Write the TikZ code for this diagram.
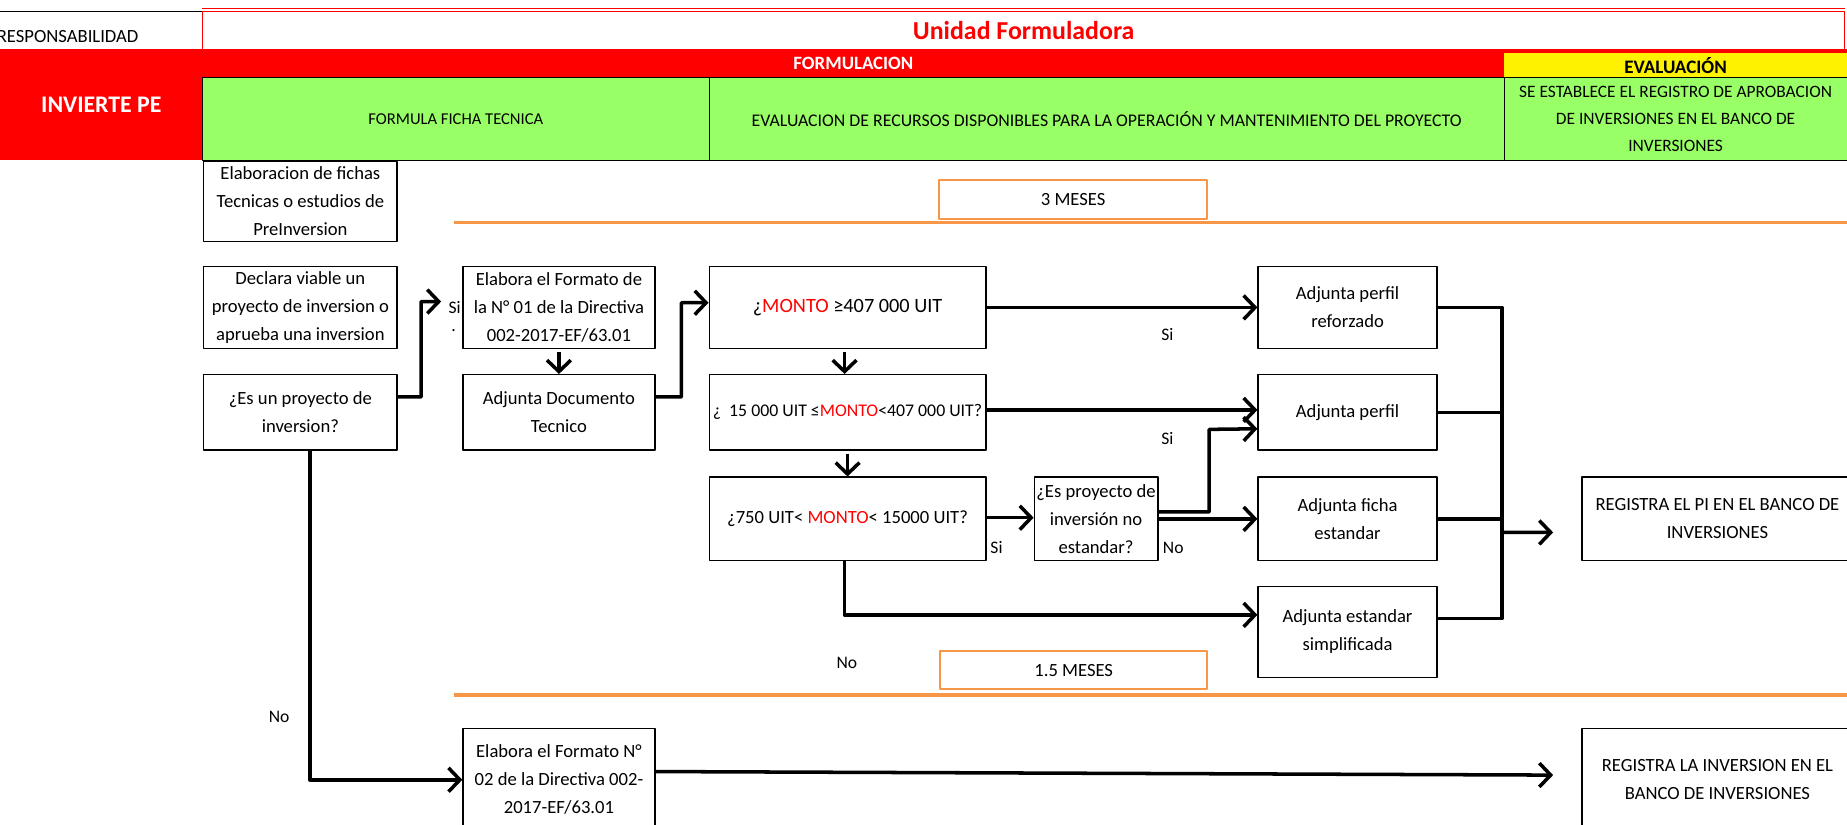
\documentclass[tikz,border=0pt]{standalone}
\usepackage{fontspec}
\setmainfont{Carlito}
\usetikzlibrary{arrows.meta}
\definecolor{verde}{HTML}{99FF66}
\definecolor{naranja}{HTML}{F79646}
\begin{document}
\begin{tikzpicture}[x=0.02cm, y=-0.02cm, line join=round,
  caja/.style={draw, line width=0.6pt, align=center, inner sep=1pt, font=\fontsize{9}{13.5}\selectfont},
  celda/.style={draw, line width=0.4pt, align=center, inner sep=0pt, font=\fontsize{8}{13}\selectfont},
  tiempo/.style={draw=naranja, line width=1pt, align=center, font=\fontsize{9}{10}\selectfont},
  flecha/.style={line width=1.7pt, -{Straight Barb[length=5.5pt,width=11.5pt]}},
  linea/.style={line width=1.7pt},
  etiq/.style={font=\fontsize{8.5}{10}\selectfont, inner sep=0pt}]
\useasboundingbox (0,0) rectangle (1568,700);
% cabecera
\draw[line width=0.4pt] (0,10) -- (172,10);
\node[anchor=west, inner sep=0pt, font=\fontsize{9}{10}\selectfont] (resp) at (-3,31) {RESPONSABILIDAD};
\node[draw=red, line width=0.4pt, minimum width=27.88cm, minimum height=0.64cm, inner sep=0pt, text=red, font=\fontsize{12.5}{14}\selectfont\bfseries] (unidad) at (869,26) {Unidad Formuladora};
\draw[red, line width=0.4pt] ([yshift=0.05cm]unidad.north west) -- ([yshift=0.05cm]unidad.north east);
\node[fill=red, minimum width=3.44cm, minimum height=1.88cm, text=white, font=\fontsize{11.5}{13}\selectfont\bfseries] (invierte) at (86,89) {INVIERTE PE};
\node[fill=red, minimum width=22.1cm, minimum height=0.48cm, inner sep=0pt, text=white, font=\fontsize{9.1}{10}\selectfont\bfseries] (formulacion) at (724.5,54) {FORMULACION};
\fill[red] (1277,42) rectangle (1568,45);
\node[fill=yellow, minimum width=5.82cm, minimum height=0.42cm, inner sep=0pt, font=\fontsize{9.2}{10}\selectfont\bfseries] (evaluacion) at (1422.5,55.5) {EVALUACIÓN};
\node[celda, fill=verde, minimum width=8.6cm, minimum height=1.4cm] (formula) at (387,101) {FORMULA FICHA TECNICA};
\node[celda, fill=verde, minimum width=13.5cm, minimum height=1.4cm, font=\fontsize{8.6}{13}\selectfont] (recursos) at (939.5,101) {EVALUACION DE RECURSOS DISPONIBLES PARA LA OPERACIÓN Y MANTENIMIENTO DEL PROYECTO};
\node[celda, fill=verde, minimum width=5.82cm, minimum height=1.4cm, font=\fontsize{8.4}{13}\selectfont] (registro) at (1422.5,101) {SE ESTABLECE EL REGISTRO DE APROBACION\\DE INVERSIONES EN EL BANCO DE\\INVERSIONES};
% plazos
\draw[naranja, line width=1.6pt] (385,189) -- (1568,189);
\draw[naranja, line width=1.6pt] (385,590) -- (1568,590);
\node[tiempo, minimum width=4.56cm, minimum height=0.66cm] (mes3) at (911,169.5) {3 MESES};
\node[tiempo, minimum width=4.54cm, minimum height=0.64cm] (mes15) at (911.5,569) {1.5 MESES};
% cajas
\node[caja, minimum width=3.28cm, minimum height=1.36cm] (elab) at (255,171) {Elaboracion de fichas\\Tecnicas o estudios de\\PreInversion};
\node[caja, minimum width=3.28cm, minimum height=1.4cm] (declara) at (255,261) {Declara viable un\\proyecto de inversion o\\aprueba una inversion};
\node[caja, minimum width=3.28cm, minimum height=1.28cm] (esproy) at (255,350) {¿Es un proyecto de\\inversion?};
\node[caja, minimum width=3.26cm, minimum height=1.4cm] (formato1) at (474.5,261) {Elabora el Formato de\\la N° 01 de la Directiva\\002-2017-EF/63.01};
\node[caja, minimum width=3.26cm, minimum height=1.28cm] (adjdoc) at (474.5,350) {Adjunta Documento\\Tecnico};
\node[caja, minimum width=4.7cm, minimum height=1.4cm, font=\fontsize{9.8}{13}\selectfont] (monto1) at (719.5,261) {¿\textcolor{red}{MONTO} ≥407 000 UIT};
\node[caja, minimum width=4.7cm, minimum height=1.28cm, inner sep=0pt, font=\fontsize{8.6}{13}\selectfont] (monto2) at (719.5,350) {¿\hspace{0.45em}15 000 UIT ≤\textcolor{red}{MONTO}<407 000 UIT?};
\node[caja, minimum width=4.7cm, minimum height=1.42cm] (monto3) at (719.5,440.5) {¿750 UIT< \textcolor{red}{MONTO}< 15000 UIT?};
\node[caja, minimum width=2.1cm, minimum height=1.42cm] (noest) at (930.5,440.5) {¿Es proyecto de\\inversión no\\estandar?};
\node[caja, minimum width=3.04cm, minimum height=1.4cm] (perfref) at (1144,261) {Adjunta perfil\\reforzado};
\node[caja, minimum width=3.04cm, minimum height=1.28cm] (perfil) at (1144,350) {Adjunta perfil};
\node[caja, minimum width=3.04cm, minimum height=1.42cm] (ficha) at (1144,440.5) {Adjunta ficha\\estandar};
\node[caja, minimum width=3.04cm, minimum height=1.54cm] (simpl) at (1144,536.5) {Adjunta estandar\\simplificada};
\node[caja, minimum width=4.6cm, minimum height=1.42cm] (registrapi) at (1458,440.5) {REGISTRA EL PI EN EL BANCO DE\\INVERSIONES};
\node[caja, minimum width=3.26cm, minimum height=1.74cm] (formato2) at (474.5,662) {Elabora el Formato N°\\02 de la Directiva 002-\\2017-EF/63.01};
\node[caja, minimum width=4.6cm, minimum height=1.74cm] (registrainv) at (1458,662) {REGISTRA LA INVERSION EN EL\\BANCO DE INVERSIONES};
% etiquetas
\node[etiq] (si1) at (386,261) {Si};
\node[etiq] (punto) at (385,281) {.};
\node[etiq] (si2) at (991,284) {Si};
\node[etiq] (si3) at (991,372) {Si};
\node[etiq] (si4) at (846,465) {Si};
\node[etiq] (no1) at (996,465) {No};
\node[etiq] (no2) at (719,563) {No};
\node[etiq] (no3) at (237,609) {No};
% conectores
\draw[flecha] ([yshift=0.26cm]esproy.east) -| ++(20,-81) -- ([xshift=-0.36cm,yshift=0.1cm]formato1.west);
\draw[flecha] ([yshift=-0.05cm]formato1.south) -- (adjdoc.north);
\draw[flecha] ([yshift=0.26cm]adjdoc.east) -| ++(22,-80) -- ([yshift=0.08cm]monto1.west);
\draw[flecha] (monto1.east) -- (perfref.west);
\draw[flecha] ([xshift=-0.05cm,yshift=-0.05cm]monto1.south) -- ([xshift=-0.05cm]monto2.north);
\draw[flecha] ([yshift=0.04cm]monto2.east) -- ([yshift=0.04cm]perfil.west);
\draw[flecha] ([yshift=-0.05cm]monto2.south) -- (monto3.north);
\draw[flecha] ([yshift=0.02cm]monto3.east) -- ([yshift=0.02cm]noest.west);
\draw[flecha] ([yshift=0.12cm]noest.east) -| ++(43,-70) -- ([yshift=-0.28cm]perfil.west);
\draw[flecha] (noest.east) -- (ficha.west);
\draw[flecha] ([xshift=-0.05cm]monto3.south) |- ([yshift=0.29cm]simpl.west);
\draw[flecha] ([xshift=0.16cm]esproy.south) |- (formato2.west);
\draw[flecha] ([yshift=0.14cm]formato2.east) -- ([xshift=-0.48cm,yshift=0.08cm]registrainv.west);
% union de salidas
\coordinate (bus) at (1275,261);
\coordinate (busbot) at (1275,525);
\coordinate (busout) at (1275,452);
\draw[linea] (perfref.east) -- (bus) -- (busbot) -- (busbot -| simpl.east);
\draw[linea] (perfil.east) -- (perfil.east -| bus);
\draw[linea] (ficha.east) -- (ficha.east -| bus);
\draw[flecha] (busout) -- ([xshift=-0.48cm,yshift=-0.23cm]registrapi.west);
\end{tikzpicture}
\end{document}
